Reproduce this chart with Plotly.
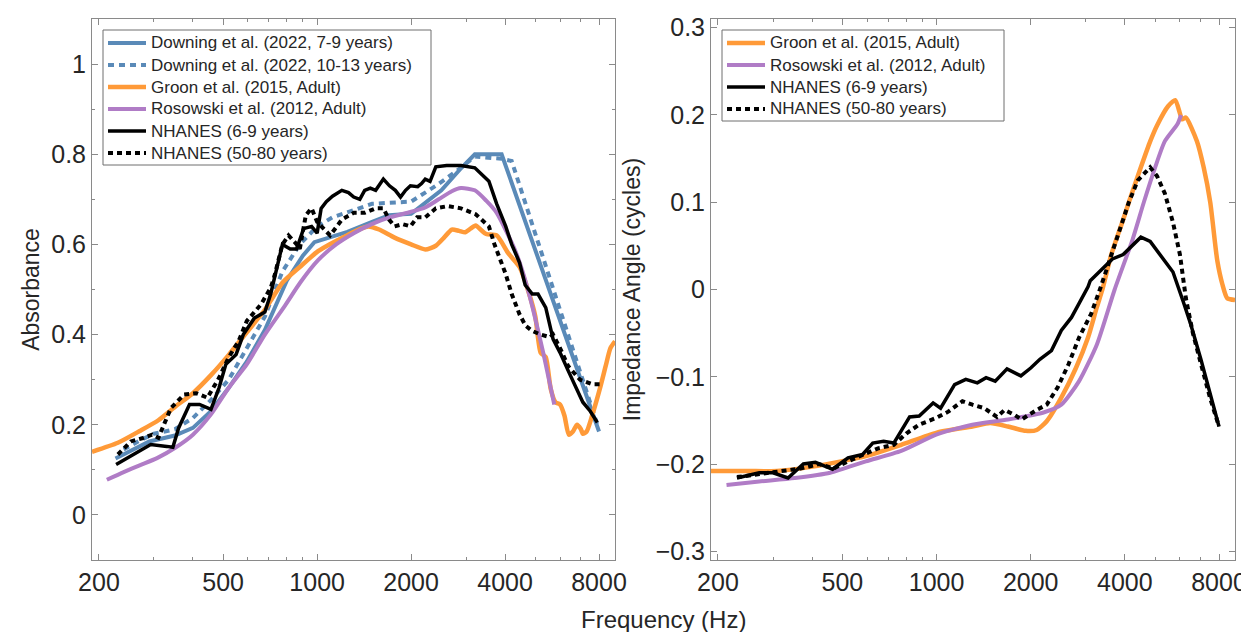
import math
import plotly.graph_objects as go

# ---------------- data ----------------
# Left panel: absorbance
down79_f = [226, 250, 290, 350, 400, 457, 521, 595, 680, 800, 900, 980, 1250, 1500, 1700, 2000, 2300, 2500, 2900, 3200, 3900, 8000]
down79_v = [0.125, 0.14, 0.163, 0.176, 0.193, 0.23, 0.282, 0.34, 0.41, 0.52, 0.575, 0.605, 0.628, 0.65, 0.665, 0.668, 0.70, 0.72, 0.77, 0.80, 0.80, 0.185]

down1013_f = [240, 270, 300, 350, 400, 457, 521, 595, 680, 774, 880, 1000, 1120, 1500, 2000, 2400, 2890, 3200, 3900, 4200, 7900]
down1013_v = [0.145, 0.165, 0.18, 0.19, 0.215, 0.255, 0.30, 0.37, 0.44, 0.54, 0.60, 0.64, 0.66, 0.69, 0.695, 0.73, 0.77, 0.795, 0.79, 0.785, 0.20]

groon_abs_f = [190, 230, 270, 310, 351, 400, 457, 521, 595, 680, 774, 880, 1007, 1130, 1245, 1380, 1460, 1580, 1770, 2000, 2220, 2400, 2550, 2700, 2850, 2980, 3100, 3220, 3350, 3480, 3760, 4100, 4450, 4780, 5000, 5200, 5400, 5600, 5800, 6000, 6200, 6400, 6600, 6800, 7000, 7100, 7300, 7600, 8050, 8400, 8700, 9000]
groon_abs_v = [0.14, 0.16, 0.186, 0.21, 0.24, 0.27, 0.31, 0.355, 0.405, 0.455, 0.515, 0.55, 0.585, 0.605, 0.62, 0.635, 0.64, 0.633, 0.615, 0.60, 0.589, 0.597, 0.615, 0.633, 0.63, 0.627, 0.635, 0.642, 0.632, 0.623, 0.62, 0.58, 0.55, 0.49, 0.44, 0.36, 0.35, 0.28, 0.25, 0.245, 0.22, 0.178, 0.185, 0.20, 0.19, 0.18, 0.185, 0.22, 0.28, 0.33, 0.37, 0.385]

ros_abs_f = [212, 240, 270, 307, 351, 400, 457, 521, 595, 680, 790, 882, 1007, 1150, 1310, 1495, 1705, 1990, 2220, 2450, 2700, 2890, 3200, 3480, 3760, 4290, 4600, 4900, 5300, 5750]
ros_abs_v = [0.078, 0.095, 0.11, 0.126, 0.149, 0.178, 0.223, 0.282, 0.334, 0.40, 0.465, 0.515, 0.565, 0.60, 0.625, 0.645, 0.66, 0.672, 0.682, 0.70, 0.718, 0.725, 0.72, 0.697, 0.67, 0.59, 0.53, 0.46, 0.36, 0.245]

nh69_abs_f = [227, 250, 270, 293, 330, 345, 360, 390, 420, 457, 485, 510, 550, 580, 630, 680, 710, 745, 774, 820, 860, 905, 960, 1000, 1030, 1070, 1120, 1200, 1260, 1310, 1370, 1420, 1480, 1540, 1630, 1705, 1780, 1850, 1920, 1990, 2100, 2160, 2220, 2300, 2400, 2600, 2890, 3200, 3550, 3760, 4020, 4200, 4450, 4640, 4890, 5100, 5400, 5700, 6000, 6370, 6800, 7100, 7500, 7900]
nh69_abs_v = [0.112, 0.128, 0.141, 0.156, 0.152, 0.15, 0.193, 0.245, 0.245, 0.234, 0.282, 0.334, 0.356, 0.40, 0.437, 0.45, 0.49, 0.55, 0.60, 0.59, 0.59, 0.635, 0.64, 0.625, 0.68, 0.695, 0.707, 0.72, 0.715, 0.705, 0.70, 0.72, 0.725, 0.72, 0.745, 0.73, 0.72, 0.705, 0.72, 0.73, 0.728, 0.735, 0.745, 0.74, 0.772, 0.775, 0.775, 0.77, 0.74, 0.69, 0.64, 0.60, 0.56, 0.51, 0.49, 0.49, 0.46, 0.39, 0.36, 0.32, 0.28, 0.25, 0.23, 0.205]

nh5080_abs_f = [230, 253, 275, 296, 310, 340, 375, 410, 445, 485, 521, 560, 595, 630, 661, 710, 730, 774, 810, 860, 880, 920, 960, 1000, 1100, 1200, 1310, 1420, 1540, 1630, 1700, 1770, 1880, 1990, 2090, 2220, 2400, 2620, 2890, 3220, 3550, 3700, 4020, 4200, 4450, 4650, 4890, 5200, 5580, 5700, 6000, 6370, 6950, 7600, 8050]
nh5080_abs_v = [0.134, 0.163, 0.17, 0.178, 0.171, 0.237, 0.267, 0.27, 0.26, 0.304, 0.35, 0.385, 0.43, 0.452, 0.467, 0.504, 0.53, 0.60, 0.62, 0.60, 0.59, 0.665, 0.68, 0.65, 0.62, 0.655, 0.67, 0.67, 0.68, 0.68, 0.655, 0.64, 0.645, 0.64, 0.66, 0.66, 0.68, 0.685, 0.68, 0.667, 0.64, 0.60, 0.534, 0.49, 0.445, 0.42, 0.408, 0.40, 0.394, 0.40, 0.37, 0.33, 0.30, 0.29, 0.29]

# Right panel: impedance angle (cycles)
groon_ang_f = [190, 250, 309, 401, 495, 594, 771, 1002, 1302, 1484, 1691, 1928, 2090, 2250, 2505, 2790, 3050, 3256, 3390, 3620, 3950, 4120, 4500, 4823, 5070, 5498, 5800, 6100, 6268, 6800, 7146, 7500, 7900, 8200, 8500, 9000]
groon_ang_v = [-0.208, -0.208, -0.208, -0.203, -0.197, -0.191, -0.178, -0.164, -0.157, -0.153, -0.157, -0.162, -0.161, -0.151, -0.124, -0.09, -0.055, -0.02, 0.0, 0.04, 0.08, 0.10, 0.14, 0.17, 0.188, 0.21, 0.217, 0.195, 0.197, 0.17, 0.14, 0.10, 0.033, 0.006, -0.01, -0.012]

ros_ang_f = [213, 271, 352, 457, 594, 771, 1002, 1302, 1691, 2198, 2505, 2856, 3256, 3711, 4231, 4600, 5000, 5370, 5900, 6050]
ros_ang_v = [-0.224, -0.22, -0.216, -0.21, -0.197, -0.185, -0.166, -0.155, -0.149, -0.141, -0.132, -0.105, -0.063, 0.0, 0.057, 0.10, 0.14, 0.17, 0.19, 0.20]

nh69_ang_f = [230, 271, 300, 335, 375, 410, 465, 521, 580, 625, 677, 730, 820, 880, 975, 1030, 1142, 1240, 1350, 1440, 1540, 1680, 1860, 2000, 2140, 2330, 2505, 2700, 2856, 3050, 3100, 3650, 3950, 4200, 4500, 4820, 5300, 5700, 6150, 6500, 7000, 7500, 8000]
nh69_ang_v = [-0.216, -0.21, -0.21, -0.216, -0.20, -0.198, -0.206, -0.193, -0.189, -0.176, -0.174, -0.176, -0.146, -0.145, -0.13, -0.136, -0.109, -0.103, -0.107, -0.101, -0.105, -0.091, -0.099, -0.09, -0.08, -0.07, -0.047, -0.032, -0.016, 0.003, 0.01, 0.035, 0.04, 0.05, 0.06, 0.055, 0.035, 0.02, -0.014, -0.04, -0.08, -0.12, -0.157]

nh5080_ang_f = [230, 300, 370, 420, 470, 520, 580, 650, 730, 800, 879, 1000, 1090, 1210, 1302, 1420, 1560, 1650, 1780, 1870, 2090, 2250, 2440, 2640, 2856, 3120, 3350, 3620, 3840, 4120, 4400, 4820, 5070, 5370, 5700, 6000, 6268, 6600, 7000, 7500, 8000]
nh5080_ang_v = [-0.215, -0.21, -0.205, -0.20, -0.205, -0.197, -0.19, -0.182, -0.178, -0.165, -0.155, -0.147, -0.14, -0.128, -0.132, -0.136, -0.146, -0.138, -0.144, -0.149, -0.138, -0.132, -0.112, -0.086, -0.055, -0.028, 0.003, 0.04, 0.07, 0.10, 0.125, 0.14, 0.13, 0.11, 0.077, 0.04, -0.01, -0.05, -0.085, -0.125, -0.157]

x_tick_vals = [200, 500, 1000, 2000, 4000, 8000]
x_tick_text = ["200", "500", "1000", "2000", "4000", "8000"]
x_minor_vals = [300, 400, 600, 700, 800, 900, 3000, 5000, 6000, 7000, 9000]
abs_tick_vals = [0, 0.2, 0.4, 0.6, 0.8, 1.0]
abs_tick_text = ["0", "0.2", "0.4", "0.6", "0.8", "1"]
abs_minor_vals = [-0.1, 0.1, 0.3, 0.5, 0.7, 0.9, 1.1]
ang_tick_vals = [-0.3, -0.2, -0.1, 0, 0.1, 0.2, 0.3]
ang_tick_text = ["\u22120.3", "\u22120.2", "\u22120.1", "0", "0.1", "0.2", "0.3"]

# ---------------- styles ----------------
BLUE = "#5a8ab8"
ORANGE = "#ff9a38"
PURPLE = "#b07cc6"
BLACK = "#000000"
BLUE_DOT = "6px,5px"
BLACK_DOT = "5px,4px"
FONT = "Liberation Sans, Arial, Helvetica, sans-serif"
TXT = "#262626"
FRAME = "#8a8a8a"
W, H = 1249, 632

fig = go.Figure()

# (freq, values, name, colour, dash, width, smooth)
left_series = [
    (down79_f, down79_v, "Downing et al. (2022, 7-9 years)", BLUE, "solid", 4, False),
    (down1013_f, down1013_v, "Downing et al. (2022, 10-13 years)", BLUE, BLUE_DOT, 4, False),
    (groon_abs_f, groon_abs_v, "Groon et al. (2015, Adult)", ORANGE, "solid", 4.5, True),
    (ros_abs_f, ros_abs_v, "Rosowski et al. (2012, Adult)", PURPLE, "solid", 4, True),
    (nh69_abs_f, nh69_abs_v, "NHANES (6-9 years)", BLACK, "solid", 3.5, False),
    (nh5080_abs_f, nh5080_abs_v, "NHANES (50-80 years)", BLACK, BLACK_DOT, 4, False),
]
right_series = [
    (groon_ang_f, groon_ang_v, "Groon et al. (2015, Adult)", ORANGE, "solid", 4.5, True),
    (ros_ang_f, ros_ang_v, "Rosowski et al. (2012, Adult)", PURPLE, "solid", 4, True),
    (nh69_ang_f, nh69_ang_v, "NHANES (6-9 years)", BLACK, "solid", 3.5, False),
    (nh5080_ang_f, nh5080_ang_v, "NHANES (50-80 years)", BLACK, BLACK_DOT, 4, False),
]

for series, xa, ya in ((left_series, "x", "y"), (right_series, "x2", "y2")):
    for f, v, name, color, dash, width, smooth in series:
        line = dict(color=color, width=width, dash=dash)
        if smooth:
            line.update(shape="spline", smoothing=0.6)
        fig.add_trace(go.Scatter(
            x=f, y=v, name=name, mode="lines", xaxis=xa, yaxis=ya, showlegend=False,
            line=line,
        ))

# ---------------- legends (boxed, MATLAB-like, compact) ----------------
shapes, annotations = [], []

def legend_box(series, box, line_x0, line_x1, text_x, first_y, step, font_size):
    x0, y0, x1, y1 = box
    shapes.append(dict(type="rect", xref="paper", yref="paper",
                       x0=x0 / W, x1=x1 / W, y0=1 - y1 / H, y1=1 - y0 / H,
                       fillcolor="white", line=dict(color="#6f6f6f", width=1), layer="above"))
    for i, (_, _, name, color, dash, width, _s) in enumerate(series):
        yy = 1 - (first_y + i * step) / H
        shapes.append(dict(type="line", xref="paper", yref="paper",
                           x0=line_x0 / W, x1=line_x1 / W, y0=yy, y1=yy,
                           line=dict(color=color, width=width, dash=dash), layer="above"))
        annotations.append(dict(text=name, xref="paper", yref="paper", x=text_x / W, y=yy,
                                xanchor="left", yanchor="middle", showarrow=False,
                                font=dict(family=FONT, size=font_size, color=TXT)))

legend_box(left_series, (95, 22, 423, 157), 100, 138, 141, 35, 22, 17)
legend_box(right_series, (714, 22, 996, 113), 719, 757, 760, 35, 22, 17)

annotations.append(dict(
    text="Frequency (Hz)", xref="paper", yref="paper", x=655 / W, y=1 - 611 / H,
    showarrow=False, xanchor="center", yanchor="middle",
    font=dict(family=FONT, size=24, color=TXT),
))

# ---------------- axes ----------------
xr = [math.log10(190), math.log10(9000)]
ydom = [1 - 552 / H, 1 - 11 / H]

def xaxis(domain, anchor):
    return dict(
        type="log", range=xr, domain=domain, anchor=anchor,
        tickmode="array", tickvals=x_tick_vals, ticktext=x_tick_text,
        ticks="inside", ticklen=6, tickwidth=1, tickcolor=FRAME,
        minor=dict(tickmode="array", tickvals=x_minor_vals, ticks="inside", ticklen=3, tickcolor=FRAME),
        showline=True, linecolor=FRAME, linewidth=1, mirror="ticks",
        showgrid=False, zeroline=False, automargin=False,
        tickfont=dict(family=FONT, size=25, color=TXT),
    )

def yaxis(rng, tv, tt, minor, anchor, title, standoff):
    d = dict(
        range=rng, domain=ydom, anchor=anchor,
        tickmode="array", tickvals=tv, ticktext=tt,
        ticks="inside", ticklen=6, tickwidth=1, tickcolor=FRAME,
        showline=True, linecolor=FRAME, linewidth=1, mirror="ticks",
        showgrid=False, zeroline=False, automargin=False,
        tickfont=dict(family=FONT, size=25, color=TXT),
        title=dict(text=title, font=dict(family=FONT, size=23, color=TXT), standoff=standoff),
    )
    if minor:
        d["minor"] = dict(tickmode="array", tickvals=minor, ticks="inside", ticklen=3, tickcolor=FRAME)
    return d

fig.update_layout(
    width=W, height=H,
    margin=dict(l=0, r=0, t=0, b=0),
    paper_bgcolor="white", plot_bgcolor="white",
    showlegend=False,
    xaxis=xaxis([84 / W, 607 / W], "y"),
    yaxis=yaxis([-0.1, 1.1], abs_tick_vals, abs_tick_text, abs_minor_vals, "x", "Absorbance", 5),
    xaxis2=xaxis([703 / W, 1227 / W], "y2"),
    yaxis2=yaxis([-0.31, 0.31], ang_tick_vals, ang_tick_text, None, "x2", "Impedance Angle (cycles)", 8),
    shapes=shapes,
    annotations=annotations,
)

fig.write_html("out.html")
